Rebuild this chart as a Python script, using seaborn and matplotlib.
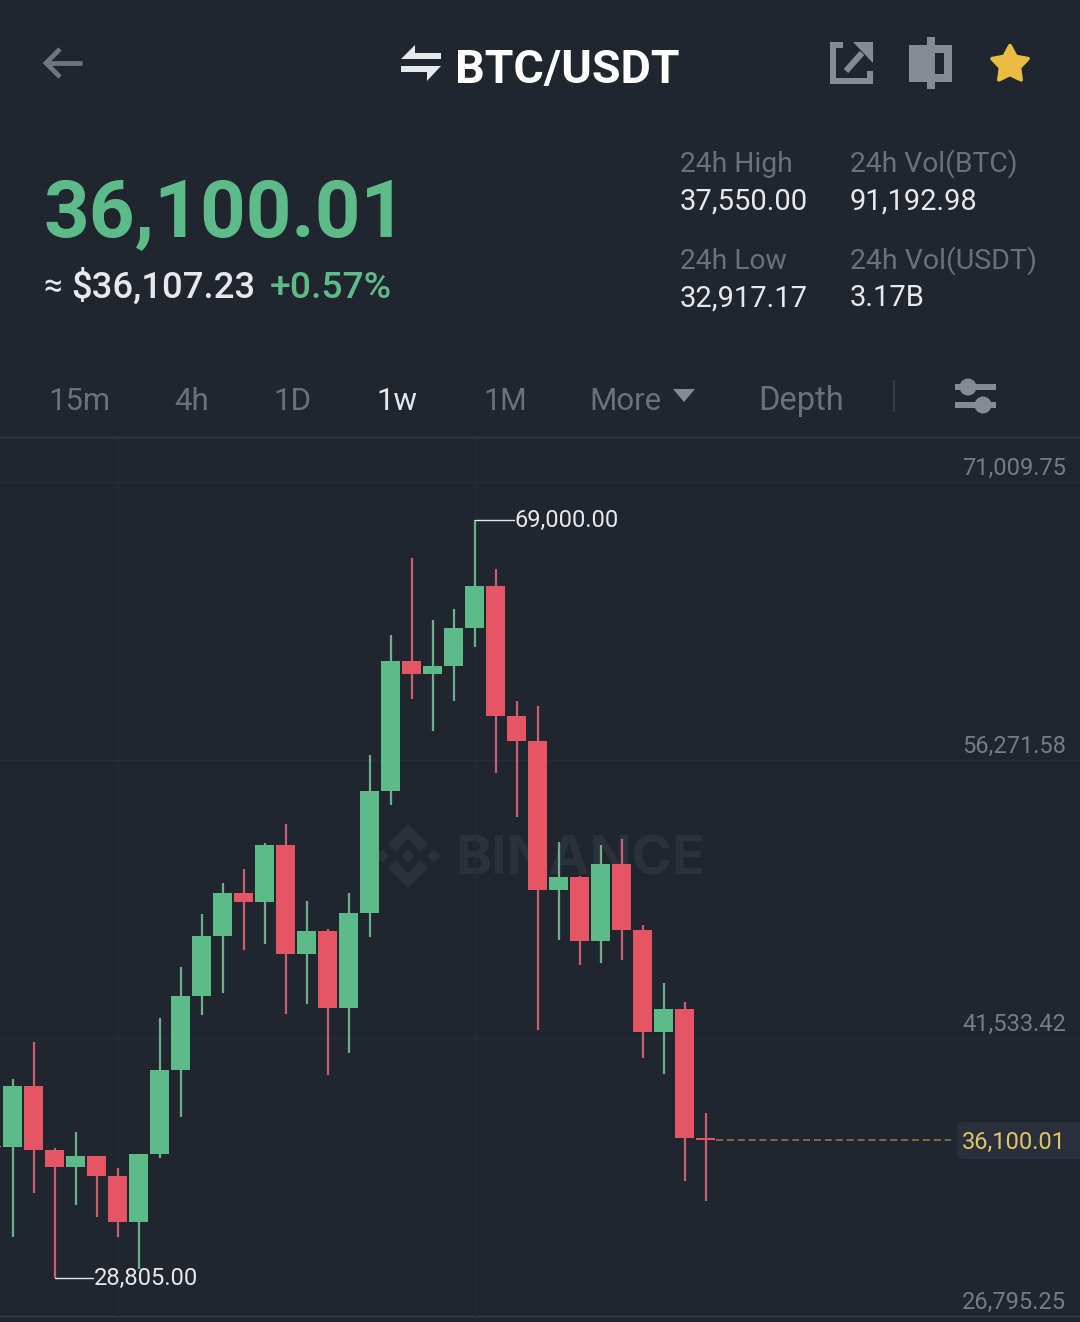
import matplotlib
matplotlib.use("Agg")
import matplotlib.pyplot as plt
from matplotlib.patches import Polygon, Rectangle, FancyBboxPatch, Circle
import numpy as np
import pandas as pd
import seaborn as sns

weeks = list(range(-1, 34))
opens = [35755, 35755, 38988, 35595, 34694, 35277, 34217, 31778, 35383, 39837, 43760, 46941, 49220, 48743, 51765, 45986, 47206,
         43124, 48160, 54628, 61520, 60831, 61255, 63269, 65496, 58604, 57279, 49379, 50069, 46676, 50758, 47259,
         41851, 43071, 36250]
highs = [35850, 39360, 41321, 35702, 36550, 35300, 34641, 35400, 42593, 45297, 48107, 49751, 50493, 51871, 52878, 48796, 47312,
         49220, 56536, 62898, 66980, 63693, 64277, 69000, 66397, 59399, 59134, 51924, 50122, 51765, 52083, 47524,
         44449, 43442, 37550]
lows = [35650, 30983, 33316, 28805, 32680, 32043, 30983, 29287, 35171, 37345, 42753, 43919, 46198, 46517, 42806, 43336, 39572,
        40738, 46888, 53886, 59505, 57809, 59399, 62262, 55582, 53249, 41957, 46729, 45403, 45509, 45668, 40473,
        39625, 33952, 32917]
closes = [35800, 38988, 35595, 34694, 35277, 34217, 31778, 35383, 39837, 43760, 46941, 49220, 48743, 51765, 45986, 47206, 43124,
          48160, 54628, 61520, 60831, 61255, 63269, 65496, 58604, 57279, 49379, 50069, 46676, 50758, 47259, 41851,
          43071, 36232, 36100.01]
axis_ticks = [71009.75, 56271.58, 41533.42, 26795.25]
last_price = 36100.01

W, H = 1080, 1322
BG = "#20252E"
GREEN = "#5DBB8A"
RED = "#E65565"
GREEN_W = "#6DAE8F"
RED_W = "#C4616F"
GRID = "#272C35"
DIM = "#6B717C"
LIGHT = "#E6E8EC"

sns.set_theme(style="dark", rc={"figure.facecolor": BG, "axes.facecolor": BG})
plt.rcParams["font.family"] = ["Roboto", "DejaVu Sans"]

fig = plt.figure(figsize=(W / 100, H / 100), dpi=100, facecolor=BG)

# watermark layer, underneath the candles
wm = fig.add_axes([0, 0, 1, 1], facecolor="none")
wm.set_xlim(0, W)
wm.set_ylim(H, 0)
wm.axis("off")
WM = "#2B303A"
wm.text(455, 874.5, "BINANCE", fontsize=39.5, color=WM, fontweight="bold", family="Inter", va="baseline")
for cx, cy, r in [(408, 856, 7), (382, 856, 6.5), (434, 856, 6.5)]:
    wm.add_patch(Polygon([(cx - r, cy), (cx, cy - r), (cx + r, cy), (cx, cy + r)], fc=WM, ec="none"))
wm.add_patch(Polygon([(408, 824), (428, 844), (420, 851), (408, 839), (396, 851), (388, 844)], fc=WM, ec="none"))
wm.add_patch(Polygon([(408, 888), (428, 868), (420, 861), (408, 873), (396, 861), (388, 868)], fc=WM, ec="none"))

chart_top = 438
ax = fig.add_axes([0, 0, 1, (H - chart_top) / H], facecolor="none")
ax.patch.set_alpha(0)

df = pd.DataFrame({"week": weeks, "open": opens, "high": highs, "low": lows, "close": closes})
df["dir"] = np.where(df["close"] >= df["open"], "up", "down")
df["base"] = df[["open", "close"]].min(axis=1)
df["size"] = (df["close"] - df["open"]).abs()

# price <-> pixel: ticks are 278 px apart, the lowest grid line sits at y=1316
px_per_price = 278 / (axis_ticks[0] - axis_ticks[1])
ymin = axis_ticks[3] - (H - 1316) / px_per_price
ymax = axis_ticks[3] + (1316 - chart_top) / px_per_price
ax.set_ylim(ymin, ymax)
pitch = 21
xmin = -12.7 / pitch
xmax = (W - 12.7) / pitch

wicks = df.melt(id_vars=["week", "dir"], value_vars=["low", "high"], value_name="price")
sns.lineplot(data=wicks, x="week", y="price", units="week", estimator=None, hue="dir",
             palette={"up": GREEN_W, "down": RED_W}, linewidth=1.6, legend=False, ax=ax,
             zorder=2, solid_capstyle="butt")
for d, col in (("up", GREEN), ("down", RED)):
    sub = df[df["dir"] == d].sort_values("week")
    sns.barplot(data=sub, x="week", y="size", bottom=sub["base"].values, native_scale=True,
                color=col, saturation=1, width=0.88, linewidth=0, errorbar=None, ax=ax, zorder=3)

ax.set_xlim(xmin, xmax)
ax.set_ylim(ymin, ymax)
ax.set_xlabel("")
ax.set_ylabel("")
ax.set_xticks([])
ax.set_yticks([])
for s in ax.spines.values():
    s.set_visible(False)

for i, t in enumerate(axis_ticks):
    ax.axhline(t, color="#3A3F48" if i == 3 else GRID, lw=0.9 if i == 3 else 0.8, zorder=0)
for wk in (5, 22):
    ax.axvline(wk, color=GRID, lw=0.8, zorder=0)

# last-price dashed line
last_wk = weeks[-1]
ax.plot([last_wk + 0.5, last_wk + 11.7], [last_price, last_price], color="#736C52", lw=1.4,
        dashes=(3.6, 2), zorder=1)

# high / low callouts
imax = df["high"].idxmax()
imin = df["low"].idxmin()
ax.plot([df.week[imax], df.week[imax] + 1.88], [highs[imax], highs[imax]], color=LIGHT, lw=1, zorder=4)
ax.plot([df.week[imin], df.week[imin] + 1.84], [lows[imin], lows[imin]], color=LIGHT, lw=1, zorder=4)

# overlay in pixel coordinates for the app chrome
ov = fig.add_axes([0, 0, 1, 1], facecolor="none")
ov.set_xlim(0, W)
ov.set_ylim(H, 0)
ov.axis("off")


def T(x, y, s, size, color, weight="normal", ha="left", **kw):
    return ov.text(x, y, s, fontsize=size, color=color, fontweight=weight, ha=ha, va="baseline", **kw)


# callout labels
T(515, 527, "69,000.00", 17, LIGHT)
T(94, 1285, "28,805.00", 17.1, LIGHT)

# axis labels
for t, base in zip(axis_ticks, (474.5, 752.5, 1030.5, 1309)):
    T(1066, base, f"{t:,.2f}", 17, "#767C87", ha="right")
ov.add_patch(FancyBboxPatch((957, 1122), 133, 37, boxstyle="round,pad=0,rounding_size=6", fc="#2A303B", ec="none", zorder=1))
T(962, 1149, f"{last_price:,.2f}", 17, "#E3C268", zorder=2)

# divider
ov.add_patch(Rectangle((0, 436), W, 3, fc="#2B3039", ec="none"))

# header
T(455, 83.5, "BTC/USDT", 33.5, "white", "bold")
T(43, 236, "36,100.01", 57.5, GREEN, "bold")
T(43, 296, "\u2248", 24, LIGHT)
T(71, 298, "$36,107.23", 26.3, LIGHT, "medium")
T(270, 298, "+0.57%", 26.8, GREEN, "medium")
for x, y, s, c, sz in [(680, 172, "24h High", DIM, 20.3), (850, 172, "24h Vol(BTC)", DIM, 20.3),
                       (680, 209.5, "37,550.00", LIGHT, 21), (850, 209.5, "91,192.98", LIGHT, 21),
                       (680, 269, "24h Low", DIM, 20.3), (850, 269, "24h Vol(USDT)", DIM, 20.5),
                       (680, 306.5, "32,917.17", LIGHT, 21), (850, 306.5, "3.17B", LIGHT, 21)]:
    T(x, y, s, sz, c)
for x, s, c, sz in [(48, "15m", DIM, 22.3), (174, "4h", DIM, 22.5), (273, "1D", DIM, 22.5), (376, "1w", LIGHT, 22.5),
                    (483, "1M", DIM, 22), (589, "More", DIM, 22.5), (758, "Depth", DIM, 23.5)]:
    T(x, 410, s, sz, c)

ICON = "#858A95"
# back arrow
ov.plot([46, 82], [63, 63], color="#6F7682", lw=3.4, solid_capstyle="butt")
ov.plot([60, 46, 60], [49, 63, 77], color="#6F7682", lw=3.4, solid_joinstyle="miter", solid_capstyle="butt")
# swap icon
ov.add_patch(Polygon([(415, 45), (415, 53), (441, 53), (441, 59), (401, 59)], fc=LIGHT, ec="none"))
ov.add_patch(Polygon([(401, 66), (441, 66), (427, 81), (427, 72), (401, 72)], fc=LIGHT, ec="none"))
# share icon
ov.add_patch(Polygon([(830, 42), (843, 42), (843, 48), (836, 48), (836, 78), (867, 78), (867, 71), (873, 71),
                      (873, 84), (830, 84)], fc=ICON, ec="none"))
ov.add_patch(Polygon([(853, 42), (873, 42), (873, 63)], fc=ICON, ec="none"))
ov.plot([846, 862], [71, 53], color=ICON, lw=4.4, solid_capstyle="butt")
# candle icon
ov.add_patch(Rectangle((909, 45), 43, 37, fc=ICON, ec="none"))
ov.add_patch(Rectangle((927, 37), 7.5, 52, fc=ICON, ec="none"))
ov.add_patch(Rectangle((935, 53), 9, 21, fc=BG, ec="none"))
# star
ang = np.deg2rad(np.arange(10) * 36 - 90)
rad = np.where(np.arange(10) % 2 == 0, 19, 10)
ov.add_patch(Polygon(np.c_[1010 + rad * np.cos(ang), 64.5 + rad * np.sin(ang)], fc="#EBBC42", ec="#EBBC42", lw=2.6, joinstyle="round"))
# tabs extras
ov.add_patch(Polygon([(673, 389), (695, 389), (684, 402)], fc=ICON, ec="none"))
ov.add_patch(Rectangle((893, 380), 2, 32, fc="#363B45", ec="none"))
ov.add_patch(Rectangle((955, 384), 41, 6, fc=ICON, ec="none"))
ov.add_patch(Rectangle((955, 402), 41, 6, fc=ICON, ec="none"))
ov.add_patch(Circle((968, 387), 8.5, fc=ICON, ec="none"))
ov.add_patch(Circle((983, 405), 8.5, fc=ICON, ec="none"))

fig.savefig("out.png", dpi=100, facecolor=BG)
